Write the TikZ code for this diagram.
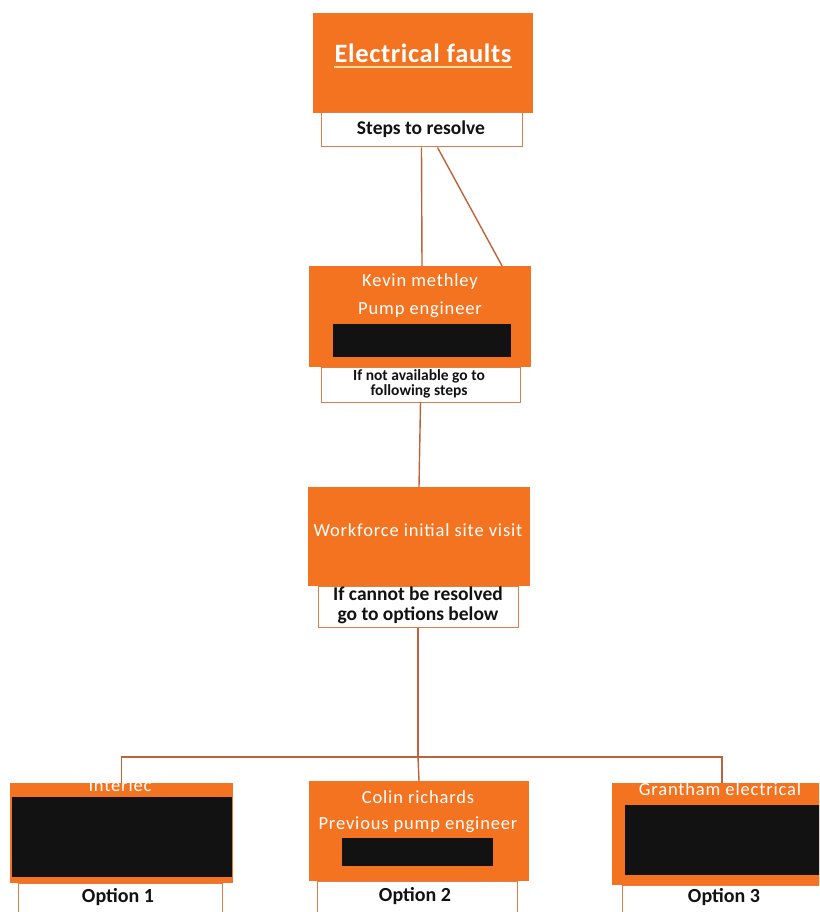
\documentclass[tikz,border=0pt]{standalone}
\usepackage{fontspec}
\setmainfont{Carlito}
\newfontfamily\spacedfont[LetterSpace=4.5]{Carlito}
\newfontfamily\titlefont[LetterSpace=2.5]{Carlito}
\definecolor{org}{RGB}{244,115,32}
\definecolor{wbord}{RGB}{222,125,75}
\definecolor{lnk}{RGB}{190,98,60}
\definecolor{blk}{RGB}{18,18,18}
\definecolor{uline}{RGB}{250,225,160}
\begin{document}
\begin{tikzpicture}[x=1pt,y=-1pt,
  obox/.style={fill=org,draw=none,inner sep=0pt,minimum width=#1},
  wbox/.style={fill=white,draw=wbord,line width=1pt,inner sep=0pt,minimum width=#1},
  redact/.style={fill=blk,draw=none,inner sep=0pt},
  wtxt/.style={text=white,inner sep=0pt,font=\spacedfont\fontsize{18.5}{20}\selectfont},
  btxt/.style={text=blk,inner sep=0pt,align=center,font=\bfseries\fontsize{19.5}{20}\selectfont},
  link/.style={draw=lnk,line width=1.4pt}]
\useasboundingbox (0,0) rectangle (819,912);
\clip (0,0) rectangle (819,912);
% top block
\node[obox=220,minimum height=100] (top) at (423,63) {};
\node[wbox=201,minimum height=34] (steps) at (421.5,130) {};
\node[text=white,inner sep=0pt,anchor=base,font=\titlefont\bfseries\fontsize{26.5}{28}\selectfont] (title) at (423,63) {Electrical faults};
\draw[uline,line width=1.3pt] ([yshift=-4pt]title.base west) -- ([yshift=-4pt]title.base east);
\node[btxt] (stepst) at (421,129) {Steps to resolve};
% Kevin
\node[obox=222,minimum height=101] (kevin) at (420,316.5) {};
\node[redact,minimum width=178,minimum height=33] (kblack) at (422,340.5) {};
\node[wbox=199,minimum height=35] (kwhite) at (420.5,384.5) {};
\node[wtxt] (kname) at (420,282) {Kevin methley};
\node[wtxt] (krole) at (420,310) {Pump engineer};
\node[text=blk,inner sep=0pt,align=center,font=\bfseries\fontsize{15.5}{13.5}\selectfont] (knote) at (419,384) {If not available go to\\following steps};
% Workforce
\node[obox=222,minimum height=99] (wf) at (419,536.5) {};
\node[wbox=200,minimum height=41] (wfw) at (418,606.5) {};
\node[wtxt] (wft) at (418,530) {Workforce initial site visit};
\node[btxt] (wfnote) at (418,605) {If cannot be resolved\\go to options below};
% Option 1
\node[obox=223,minimum height=100] (o1) at (121.5,833) {};
\node[wtxt,anchor=base] (o1name) at (120,791) {Interlec};
\node[redact,minimum width=220,minimum height=80] (o1black) at (122,837) {};
\node[wbox=204,minimum height=42] (o1w) at (120,904) {};
\node[btxt,font=\bfseries\fontsize{20}{20}\selectfont] (o1t) at (118,897) {Option 1};
% Option 2
\node[obox=220,minimum height=100] (o2) at (419,831) {};
\node[wtxt] (o2name) at (418,797) {Colin richards};
\node[wtxt] (o2role) at (418,825) {Previous pump engineer};
\node[redact,minimum width=151,minimum height=28] (o2black) at (417.5,852) {};
\node[wbox=200,minimum height=44] (o2w) at (417,903) {};
\node[btxt,font=\bfseries\fontsize{20}{20}\selectfont] (o2t) at (415,896) {Option 2};
% Option 3
\node[obox=220,minimum height=102] (o3) at (722,834) {};
\node[wtxt,anchor=base] (o3name) at (720,795) {Grantham electrical};
\node[redact,minimum width=205,minimum height=70] (o3black) at (727.5,840) {};
\node[wbox=200,minimum height=40] (o3w) at (722,905) {};
\node[btxt,font=\bfseries\fontsize{20}{20}\selectfont] (o3t) at (724,897) {Option 3};
% connectors
\coordinate (bar) at (418,757);
\draw[link] (steps.south) -- ([xshift=2pt]kevin.north);
\draw[link] ([xshift=16pt]steps.south) -- ([xshift=82pt]kevin.north);
\draw[link] (kwhite.south) -- (wf.north);
\draw[link] (wfw.south) -- (bar);
\draw[link] (o1.north) |- (bar);
\draw[link] (bar) -| (o3.north);
\draw[link] (bar) -- (o2.north);
\end{tikzpicture}
\end{document}
